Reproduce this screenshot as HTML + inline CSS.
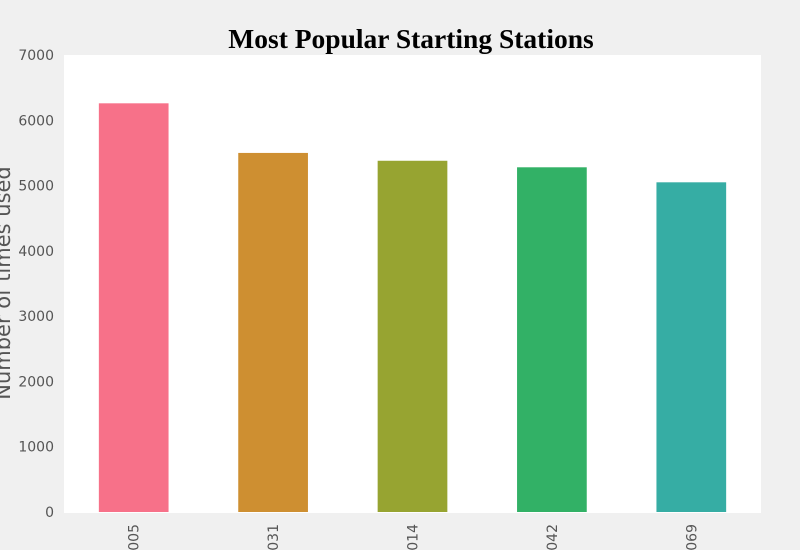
<!DOCTYPE html>
<html><head><meta charset="utf-8"><style>
body{margin:0;background:#f0f0f0;}
svg{display:block;font-family:"DejaVu Sans","Liberation Sans",sans-serif;}
</style></head><body>
<svg id="chart" width="800" height="550">
<rect x="0" y="0" width="800" height="550" fill="#f0f0f0"/>
<text x="411" y="48" text-anchor="middle" font-family="Liberation Serif, serif" font-weight="bold" font-size="27.5" fill="#000">Most Popular Starting Stations</text>
<rect x="64" y="55" width="697" height="458" fill="#fff"/>
<text transform="translate(10,283) rotate(-90)" text-anchor="middle" font-size="21" fill="#555">Number of times used</text>
<g id="yticks"></g><g id="bars"></g><g id="xticks"></g>
</svg>
<script>
const categories=["31005","31031","31014","31042","31069"];
const values=[6260,5500,5380,5280,5050];
const yTicks=[0,1000,2000,3000,4000,5000,6000,7000];
const colors=["#f77189","#ce8f31","#97a431","#32b166","#36ada4"];
const NS="http://www.w3.org/2000/svg";
const x0=64,x1=761,yTop=55,yBot=512,yMax=7000;
const y=v=>yBot-(v/yMax)*(yBot-yTop);
const step=(x1-x0)/categories.length;
const xc=i=>x0+step*(i+0.5);
const yt=document.getElementById('yticks'),bg=document.getElementById('bars'),xt=document.getElementById('xticks');
yTicks.forEach(t=>{
 const e=document.createElementNS(NS,'text');
 e.setAttribute('x',54);e.setAttribute('y',y(t)+5);e.setAttribute('text-anchor','end');
 e.setAttribute('font-size','14');e.setAttribute('fill','#555');e.textContent=t;
 
 
 yt.appendChild(e);
});
categories.forEach((c,i)=>{
 const w=step*0.5;
 const r=document.createElementNS(NS,'rect');
 r.setAttribute('x',xc(i)-w/2);r.setAttribute('y',y(values[i]));
 r.setAttribute('width',w);r.setAttribute('height',yBot-y(values[i]));
 r.setAttribute('fill',colors[i]);
 
 
 bg.appendChild(r);
 const t=document.createElementNS(NS,'text');
 t.setAttribute('transform','translate('+(xc(i)+5)+',524) rotate(-90)');
 t.setAttribute('text-anchor','end');t.setAttribute('font-size','14');t.setAttribute('fill','#555');
 t.textContent=c;
 
 
 xt.appendChild(t);
});
</script>
</body></html>
